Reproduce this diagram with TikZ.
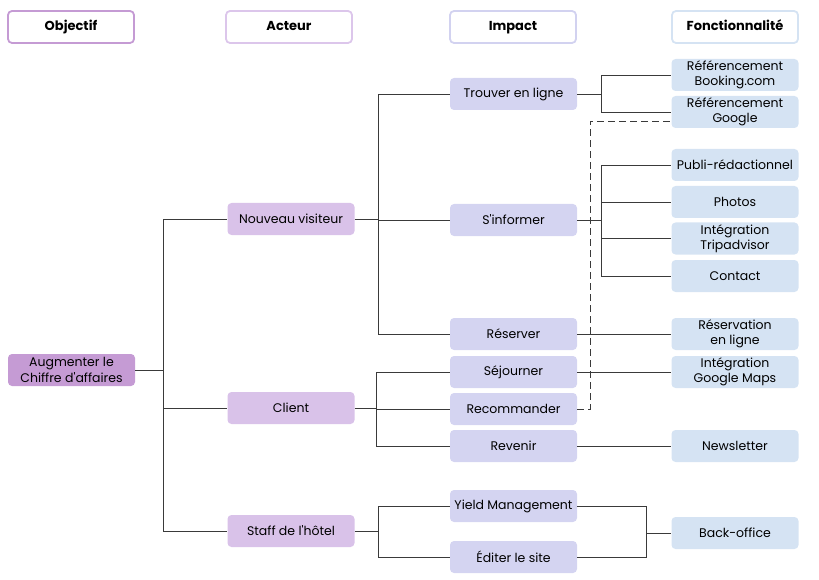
\documentclass[tikz,border=0pt]{standalone}
\usepackage{fontspec}
\setmainfont{Poppins}[Ligatures=TeXOff]
\usepackage{tikz}

\definecolor{objfill}{HTML}{C59BD4}
\definecolor{actfill}{HTML}{D9C2E9}
\definecolor{impfill}{HTML}{D4D4F1}
\definecolor{fctfill}{HTML}{D5E3F3}
\definecolor{actline}{HTML}{DCC6EB}
\definecolor{impline}{HTML}{D2D2F0}
\definecolor{wire}{HTML}{3A3A3A}

\tikzset{
  head/.style={draw,line width=1.8pt,rounded corners=4pt,fill=white,minimum width=126pt,minimum height=32pt,text height=9pt,text depth=2pt,font=\fontsize{13}{15}\selectfont\bfseries},
  box/.style={rounded corners=4pt,minimum width=127pt,minimum height=32pt,inner sep=1pt,align=center,font=\fontsize{12.5}{15.5}\selectfont},
  objbox/.style={box,fill=objfill},
  actbox/.style={box,fill=actfill},
  impbox/.style={box,fill=impfill},
  fctbox/.style={box,fill=fctfill},
  wirelink/.style={draw=wire,line width=0.9pt}
}

\begin{document}
\begin{tikzpicture}[x=1pt,y=-1pt]
\useasboundingbox (0,0) rectangle (819,580);

% en-tetes
\node[head,draw=objfill] (hobj) at (71,27) {Objectif};
\node[head,draw=actline] (hact) at (289,27) {Acteur};
\node[head,draw=impline] (himp) at (513,27) {Impact};
\node[head,draw=fctfill] (hfct) at (735,27) {Fonctionnalit\'e};

% objectif et acteurs
\node[objbox] (obj) at (71.5,370) {Augmenter le\\Chiffre d'affaires};
\node[actbox] (visit) at (291,219) {Nouveau visiteur};
\node[actbox] (client) at (291,408) {Client};
\node[actbox] (staff) at (291,531) {Staff de l'h\^otel};

% impacts
\node[impbox] (trouver) at (513.5,94) {Trouver en ligne};
\node[impbox] (informer) at (513.5,220) {S'informer};
\node[impbox] (reserver) at (513.5,334) {R\'eserver};
\node[impbox] (sejour) at (513.5,372) {S\'ejourner};
\node[impbox] (recom) at (513.5,409) {Recommander};
\node[impbox] (revenir) at (513.5,446) {Revenir};
\node[impbox] (yield) at (513.5,506) {Yield Management};
\node[impbox] (editer) at (513.5,557) {\'Editer le site};

% fonctionnalites
\node[fctbox] (booking) at (735,75) {R\'ef\'erencement\\Booking.com};
\node[fctbox] (google) at (735,112) {R\'ef\'erencement\\Google};
\node[fctbox] (publi) at (735,165) {Publi-r\'edactionnel};
\node[fctbox] (photos) at (735,202) {Photos};
\node[fctbox] (tripad) at (735,238.5) {Int\'egration\\Tripadvisor};
\node[fctbox] (contact) at (735,276) {Contact};
\node[fctbox] (resa) at (735,334) {R\'eservation\\en ligne};
\node[fctbox] (maps) at (735,372) {Int\'egration\\Google Maps};
\node[fctbox] (news) at (735,446) {Newsletter};
\node[fctbox] (back) at (735,533) {Back-office};

% points de jonction
\coordinate (jobj) at (163,370);
\coordinate (jvisit) at (378,219);
\coordinate (jclient) at (376,408);
\coordinate (jstaff) at (378,531);
\coordinate (jtrouver) at (601,94);
\coordinate (jinfo) at (601,220);
\coordinate (jback) at (646,533);
\coordinate (jdash) at (590,121);

% liaisons
\draw[wirelink] (obj.east) -- (jobj);
\draw[wirelink] (jobj) |- (visit.west);
\draw[wirelink] (jobj) |- (client.west);
\draw[wirelink] (jobj) |- (staff.west);

\draw[wirelink] (visit.east) -- (jvisit);
\draw[wirelink] (jvisit) |- (trouver.west);
\draw[wirelink] (jvisit) |- (informer.west);
\draw[wirelink] (jvisit) |- (reserver.west);

\draw[wirelink] (client.east) -- (jclient);
\draw[wirelink] (jclient) |- (sejour.west);
\draw[wirelink] (jclient) |- (recom.west);
\draw[wirelink] (jclient) |- (revenir.west);

\draw[wirelink] (staff.east) -- (jstaff);
\draw[wirelink] (jstaff) |- (yield.west);
\draw[wirelink] (jstaff) |- (editer.west);

\draw[wirelink] (trouver.east) -- (jtrouver);
\draw[wirelink] (jtrouver) |- (booking.west);
\draw[wirelink] (jtrouver) |- (google.west);

\draw[wirelink] (informer.east) -- (jinfo);
\draw[wirelink] (jinfo) |- (publi.west);
\draw[wirelink] (jinfo) |- (photos.west);
\draw[wirelink] (jinfo) |- (tripad.west);
\draw[wirelink] (jinfo) |- (contact.west);

\draw[wirelink] (reserver.east) -- (resa.west);
\draw[wirelink] (sejour.east) -- (maps.west);
\draw[wirelink] (revenir.east) -- (news.west);

\draw[wirelink] (yield.east) -| (jback);
\draw[wirelink] (editer.east) -| (jback);
\draw[wirelink] (jback) -- (back.west);

\draw[wirelink,dash pattern=on 7pt off 4pt] (recom.east) -| (jdash) -- (jdash -| google.west);
\end{tikzpicture}
\end{document}
